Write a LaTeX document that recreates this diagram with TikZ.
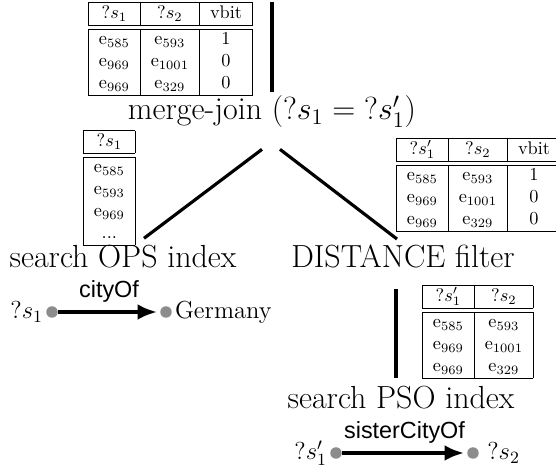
\RequirePackage{fix-cm}
\documentclass[tikz,border=0pt]{standalone}
\usepackage{fontspec}
\newfontfamily\labelfont{Liberation Sans}
\usetikzlibrary{calc,arrows.meta}
\tikzset{
	op/.style={font=\fontsize{18.2}{22}\selectfont, inner sep=0pt, anchor=base},
	tbl/.style={font=\fontsize{10.4}{12.5}\selectfont, inner sep=0pt, anchor=north west},
	tree/.style={line width=1.8pt},
	var/.style={circle, fill=black!45, inner sep=0pt, minimum size=0.23cm},
	vlabel/.style={font=\fontsize{14}{17}\selectfont, inner sep=1.5pt},
	rel/.style={line width=2pt, -{Latex[length=11pt,width=9pt]}, shorten >=1.7pt},
	rlabel/.style={font=\labelfont\fontsize{13.3}{16}\selectfont, above=1pt}
}

\begin{document}
\begin{tikzpicture}[x=0.02cm, y=-0.02cm]
			%%%%% START %%%%%
			\useasboundingbox (0,0) rectangle (556,473);
			\clip (0,0) rectangle (556,473);
			
			\node[op] (merge) at (272,120) {merge-join ($?s_1 = {?}s'_1$)};
			\node[op] (ops) at (123,268) {search OPS index};
			\node[op] (dist) at (403,268) {DISTANCE filter};
			\node[op] (pso) at (401,409) {search PSO index};
			
			\coordinate (top) at (272,2);
			\draw[tree] ($(merge.north)+(0,-4)$) -- (top);
			\draw[tree] ($(merge.south)+(-10,21)$) -- ($(ops.north)+(21,-7)$);
			\draw[tree] ($(merge.south)+(8,21)$) -- ($(dist.north)+(-6,-6)$);
			\draw[tree] ($(dist.south)+(-7,20)$) -- ($(pso.north)+(-5,-8)$);
			
			\node[tbl] (joinTab) at (88,2) {\begin{tabular}{|c|c|c|}\hline
					$?s_1$ & $?s_2$ & vbit\\ \hline\hline
					e$_{585}$ & e$_{593}$ & 1\\
					e$_{969}$ & e$_{1001}$ & 0\\
					e$_{969}$ & e$_{329}$ & 0\\ \hline
				\end{tabular}};
			
			\node[tbl] (opsTab) at (83,130) {\begin{tabular}{|c|}\hline
					$?s_1$\\ \hline\hline
					e$_{585}$\\
					e$_{593}$\\
					e$_{969}$\\
					...\\ \hline
				\end{tabular}};
			
			\node[tbl] (distTab) at (396,138) {\begin{tabular}{|c|c|c|}\hline
					$?s'_1$ & $?s_2$ & vbit\\ \hline\hline
					e$_{585}$ & e$_{593}$ & 1\\
					e$_{969}$ & e$_{1001}$ & 0\\
					e$_{969}$ & e$_{329}$ & 0\\ \hline
				\end{tabular}};
			
			\node[tbl] (psoTab) at (422,285) {\begin{tabular}{|c|c|}\hline
					$?s'_1$ & $?s_2$\\ \hline\hline
					e$_{585}$ & e$_{593}$\\
					e$_{969}$ & e$_{1001}$\\
					e$_{969}$ & e$_{329}$\\ \hline
				\end{tabular}};
			
			% OPS pattern
			\node[var, label={[vlabel]left:$?s_1$}] (s1) at (52,312) {};
			\node[var, label={[vlabel]right:Germany}] (germany) at (166,312) {};
			\draw[rel] (s1) -- node[rlabel] {cityOf} (germany);
			
			% PSO pattern
			\node[var, label={[vlabel]left:$?s'_1$}] (s1p) at (336,453) {};
			\node[var, label={[vlabel, label distance=3pt]right:$?s_2$}] (s2) at (473,453) {};
			\draw[rel] (s1p) -- node[rlabel] {sisterCityOf} (s2);
			%%%%% END %%%%%
\end{tikzpicture}
\end{document}
